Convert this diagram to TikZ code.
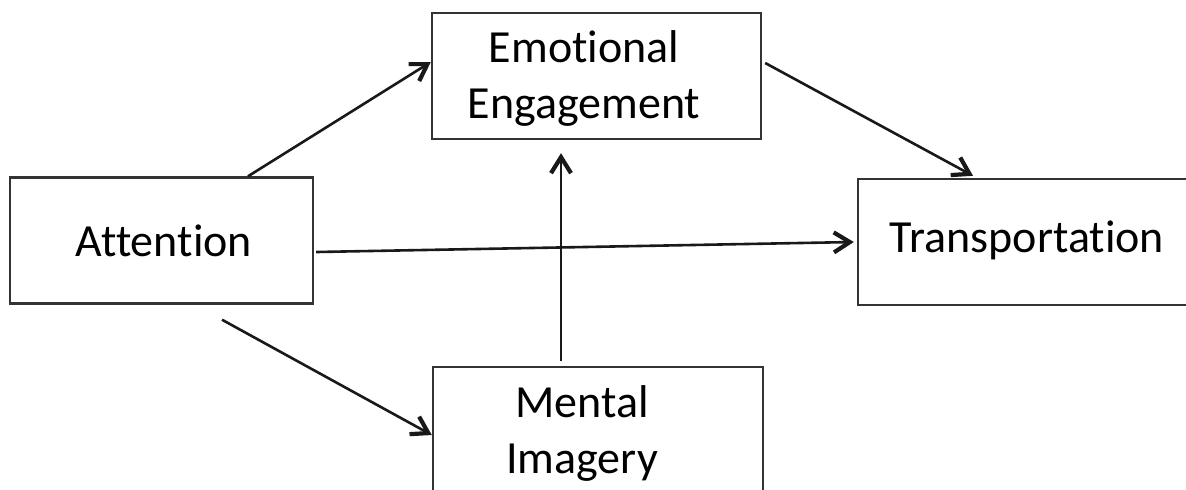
\documentclass[tikz,border=0pt]{standalone}
\usepackage{fontspec}
\setmainfont{Carlito}[Ligatures=NoCommon]
\usetikzlibrary{arrows.meta,calc}

\begin{document}
\begin{tikzpicture}[x=.5pt,y=-.5pt,>={Straight Barb[length=8pt,width=10pt,line width=2.1pt]}]
\tikzset{box/.style={draw=black!80,line width=1.2pt,minimum height=63pt,inner sep=0pt},
txt/.style={align=center,font=\fontsize{23}{28}\selectfont},
link/.style={->,line width=1.3pt,draw=black!90}}
\useasboundingbox (0,0) rectangle (1186,489);
% boxes, text set as centre labels
\node[box,minimum width=151.5pt,label={[txt,xshift=1.2pt]center:Attention}] (att) at (161.5,240.5){};
\node[box,minimum width=164.5pt,label={[txt,xshift=-6.2pt,yshift=-1pt]center:Emotional\\Engagement}] (emo) at (596.5,76){};
\node[box,minimum width=165pt,label={[txt,xshift=2pt,yshift=1pt]center:Transportation}] (tra) at (1023,242){};
\node[box,minimum width=165pt,label={[txt,xshift=-8pt,yshift=-1.7pt]center:Mental\\Imagery}] (men) at (598,430){};
% links
\draw[link] ($(att.north)+(86.5,0)$) -- ($(emo.west)+(0,-14)$);
\draw[link] ($(att.south)+(60.5,15)$) -- ($(men.west)+(0,5)$);
\draw[link] ($(att.east)+(2,11.5)$) -- ($(tra.west)+(-3,0)$);
\draw[link] ($(emo.east)+(3,-13)$) -- ($(tra.north)+(-50,-2)$);
\draw[link] ($(men.north)+(-37,-5)$) -- ($(emo.south)+(-35.5,13)$);
\end{tikzpicture}
\end{document}
